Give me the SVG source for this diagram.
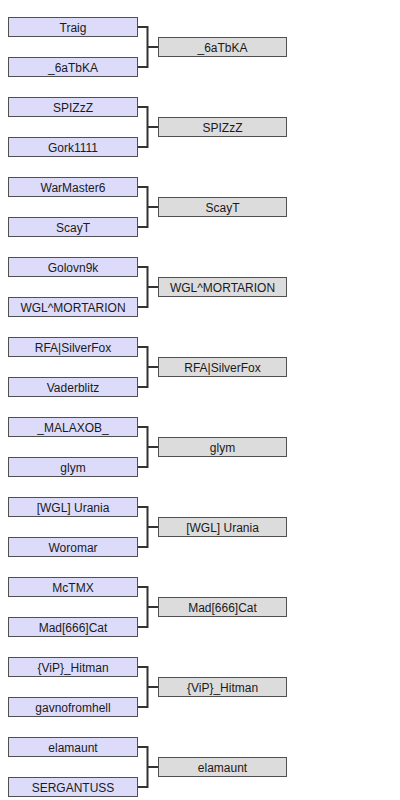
<svg xmlns="http://www.w3.org/2000/svg" width="400" height="800" viewBox="0 0 400 800">
<style>
.p rect{fill:#dcdcfa;stroke:#505050;stroke-width:1}
.w rect{fill:#dcdcdc;stroke:#505050;stroke-width:1}
text{font-family:"Liberation Sans",Arial,sans-serif;font-size:12px;fill:#1a1a1a;text-anchor:middle}
.c path{fill:none;stroke:#333;stroke-width:2}
</style>
<rect width="400" height="800" fill="#fff"/>
<g id="connectors" class="c">
<path d="M137.5 27 H147.5 V67 H137.5 M147.5 47 H158"/>
<path d="M137.5 107 H147.5 V147 H137.5 M147.5 127 H158"/>
<path d="M137.5 187 H147.5 V227 H137.5 M147.5 207 H158"/>
<path d="M137.5 267 H147.5 V307 H137.5 M147.5 287 H158"/>
<path d="M137.5 347 H147.5 V387 H137.5 M147.5 367 H158"/>
<path d="M137.5 427 H147.5 V467 H137.5 M147.5 447 H158"/>
<path d="M137.5 507 H147.5 V547 H137.5 M147.5 527 H158"/>
<path d="M137.5 587 H147.5 V627 H137.5 M147.5 607 H158"/>
<path d="M137.5 667 H147.5 V707 H137.5 M147.5 687 H158"/>
<path d="M137.5 747 H147.5 V787 H137.5 M147.5 767 H158"/>
</g>
<g id="m1a" class="p"><rect x="8.5" y="17.5" width="129" height="19"/><text x="73" y="32">Traig</text></g>
<g id="m1b" class="p"><rect x="8.5" y="57.5" width="129" height="19"/><text x="73" y="72">_6aTbKA</text></g>
<g id="m1w" class="w"><rect x="158.5" y="37.5" width="128" height="19"/><text x="222.5" y="52">_6aTbKA</text></g>

<g id="m2a" class="p"><rect x="8.5" y="97.5" width="129" height="19"/><text x="73" y="112">SPIZzZ</text></g>
<g id="m2b" class="p"><rect x="8.5" y="137.5" width="129" height="19"/><text x="73" y="152">Gork1111</text></g>
<g id="m2w" class="w"><rect x="158.5" y="117.5" width="128" height="19"/><text x="222.5" y="132">SPIZzZ</text></g>

<g id="m3a" class="p"><rect x="8.5" y="177.5" width="129" height="19"/><text x="73" y="192">WarMaster6</text></g>
<g id="m3b" class="p"><rect x="8.5" y="217.5" width="129" height="19"/><text x="73" y="232">ScayT</text></g>
<g id="m3w" class="w"><rect x="158.5" y="197.5" width="128" height="19"/><text x="222.5" y="212">ScayT</text></g>

<g id="m4a" class="p"><rect x="8.5" y="257.5" width="129" height="19"/><text x="73" y="272">Golovn9k</text></g>
<g id="m4b" class="p"><rect x="8.5" y="297.5" width="129" height="19"/><text x="73" y="312">WGL^MORTARION</text></g>
<g id="m4w" class="w"><rect x="158.5" y="277.5" width="128" height="19"/><text x="222.5" y="292">WGL^MORTARION</text></g>

<g id="m5a" class="p"><rect x="8.5" y="337.5" width="129" height="19"/><text x="73" y="352">RFA|SilverFox</text></g>
<g id="m5b" class="p"><rect x="8.5" y="377.5" width="129" height="19"/><text x="73" y="392">Vaderblitz</text></g>
<g id="m5w" class="w"><rect x="158.5" y="357.5" width="128" height="19"/><text x="222.5" y="372">RFA|SilverFox</text></g>

<g id="m6a" class="p"><rect x="8.5" y="417.5" width="129" height="19"/><text x="73" y="432">_MALAXOB_</text></g>
<g id="m6b" class="p"><rect x="8.5" y="457.5" width="129" height="19"/><text x="73" y="472">glym</text></g>
<g id="m6w" class="w"><rect x="158.5" y="437.5" width="128" height="19"/><text x="222.5" y="452">glym</text></g>

<g id="m7a" class="p"><rect x="8.5" y="497.5" width="129" height="19"/><text x="73" y="512">[WGL] Urania</text></g>
<g id="m7b" class="p"><rect x="8.5" y="537.5" width="129" height="19"/><text x="73" y="552">Woromar</text></g>
<g id="m7w" class="w"><rect x="158.5" y="517.5" width="128" height="19"/><text x="222.5" y="532">[WGL] Urania</text></g>

<g id="m8a" class="p"><rect x="8.5" y="577.5" width="129" height="19"/><text x="73" y="592">McTMX</text></g>
<g id="m8b" class="p"><rect x="8.5" y="617.5" width="129" height="19"/><text x="73" y="632">Mad[666]Cat</text></g>
<g id="m8w" class="w"><rect x="158.5" y="597.5" width="128" height="19"/><text x="222.5" y="612">Mad[666]Cat</text></g>

<g id="m9a" class="p"><rect x="8.5" y="657.5" width="129" height="19"/><text x="73" y="672">{ViP}_Hitman</text></g>
<g id="m9b" class="p"><rect x="8.5" y="697.5" width="129" height="19"/><text x="73" y="712">gavnofromhell</text></g>
<g id="m9w" class="w"><rect x="158.5" y="677.5" width="128" height="19"/><text x="222.5" y="692">{ViP}_Hitman</text></g>

<g id="m10a" class="p"><rect x="8.5" y="737.5" width="129" height="19"/><text x="73" y="752">elamaunt</text></g>
<g id="m10b" class="p"><rect x="8.5" y="777.5" width="129" height="19"/><text x="73" y="792">SERGANTUSS</text></g>
<g id="m10w" class="w"><rect x="158.5" y="757.5" width="128" height="19"/><text x="222.5" y="772">elamaunt</text></g>
</svg>
